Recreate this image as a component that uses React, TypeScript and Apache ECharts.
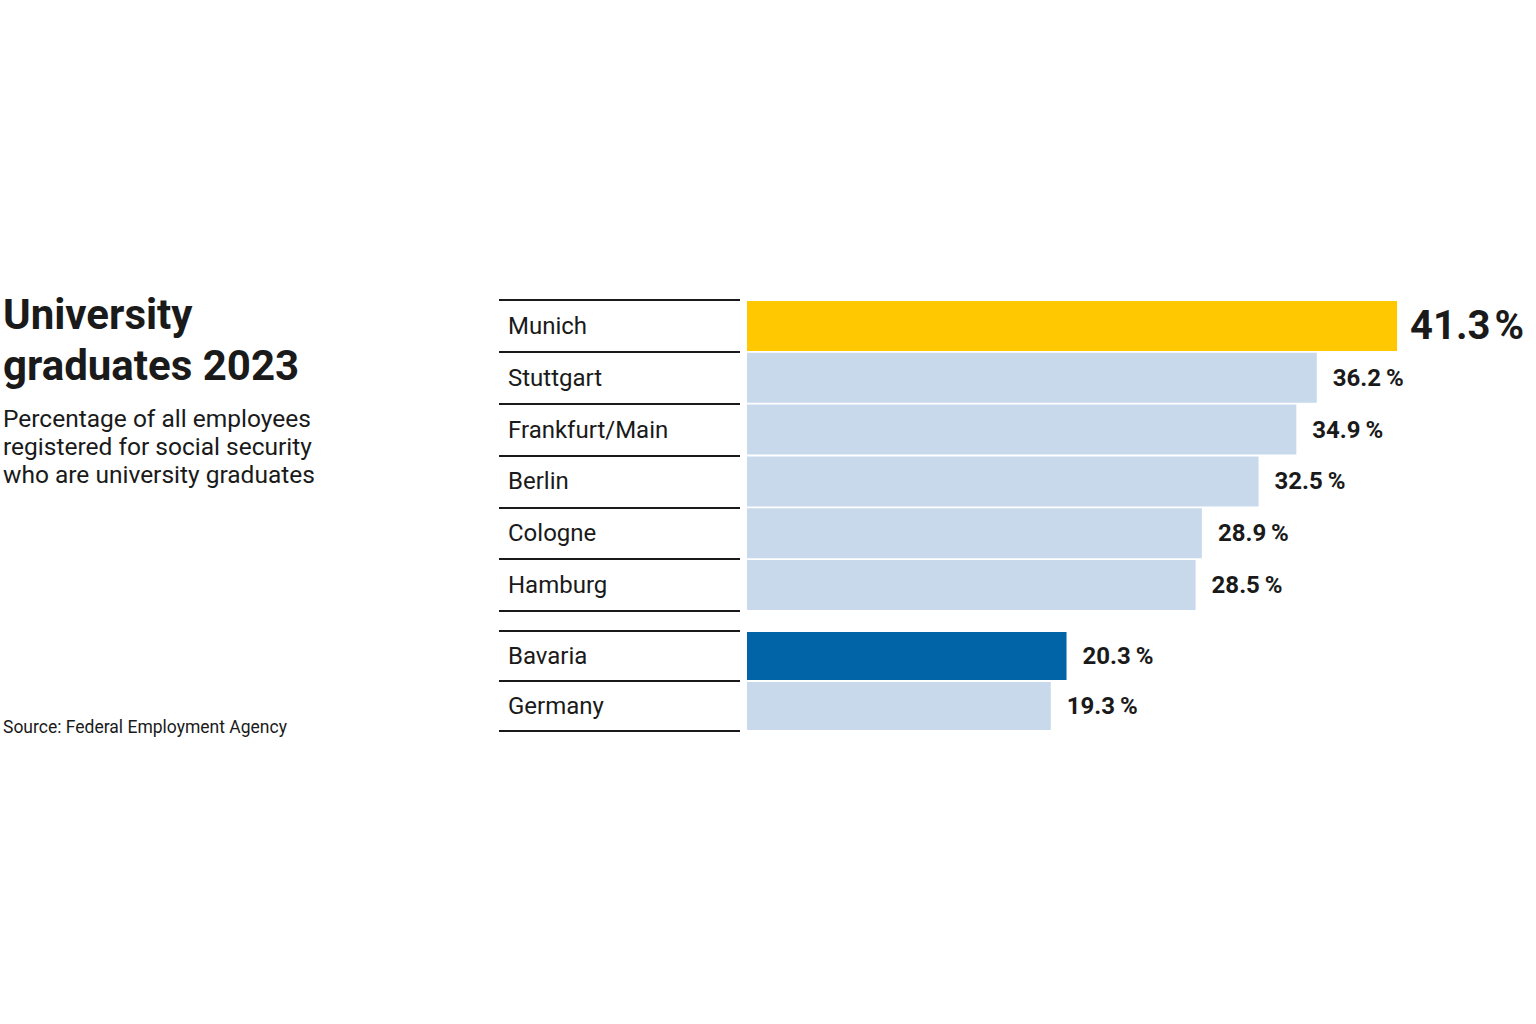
import React, { useEffect, useRef } from "react";
import * as echarts from "echarts";

const cityCategories = ["Munich", "Stuttgart", "Frankfurt/Main", "Berlin", "Cologne", "Hamburg"];
const cityValues = [41.3, 36.2, 34.9, 32.5, 28.9, 28.5];
const regionCategories = ["Bavaria", "Germany"];
const regionValues = [20.3, 19.3];
const titleLines = ["University", "graduates 2023"];
const subtitleLines = [
  "Percentage of all employees",
  "registered for social security",
  "who are university graduates",
];
const sourceText = "Source: Federal Employment Agency";

const FONT = "Roboto, 'Liberation Sans', sans-serif";
const INK = "#1a1a1a";
const YELLOW = "#FFC800";
const LIGHT = "#C9D9EC";
const DARK = "#0064A6";

const fmt = (v: number) => `${v.toFixed(1)}\u2009%`;
const fmtBig = (v: number) => `${v.toFixed(1)}\u200A%`;

export default function App() {
  const ref = useRef<HTMLDivElement>(null);
  useEffect(() => {
    if (!ref.current) return;
    const chart = echarts.init(ref.current, undefined, { renderer: "svg" });

    const yAxisCommon = (gridIndex: number, data: string[]) => ({
      type: "category",
      gridIndex,
      data,
      inverse: true,
      axisLine: { show: false, onZero: false },
      axisTick: { show: true, length: 241, lineStyle: { color: INK, width: 2 } },
      axisLabel: {
        margin: 232,
        align: "left",
        fontSize: 24,
        color: INK,
        fontFamily: FONT,
      },
      splitLine: { show: false },
    });

    const xAxisCommon = (gridIndex: number) => ({
      type: "value",
      gridIndex,
      min: -0.445,
      max: 50,
      show: false,
    });

    const baseLabel = {
      show: true,
      position: "right",
      distance: 16,
      fontSize: 24,
      fontWeight: "bold",
      color: INK,
      fontFamily: FONT,
      formatter: (p: any) => fmt(p.value),
    };

    const cityData = cityValues.map((v, i) =>
      i === 0
        ? {
            value: v,
            itemStyle: { color: YELLOW },
            label: {
              ...baseLabel,
              fontSize: 40,
              distance: 13,
              formatter: (p: any) => fmtBig(p.value),
            },
          }
        : { value: v, itemStyle: { color: LIGHT } }
    );
    const regionData = regionValues.map((v, i) => ({
      value: v,
      itemStyle: { color: i === 0 ? DARK : LIGHT },
    }));

    const graphicTexts: any[] = [];
    titleLines.forEach((t, i) =>
      graphicTexts.push({
        type: "text",
        x: 3,
        y: 314 + i * 51,
        style: { text: t, font: `bold 42px ${FONT}`, fill: INK, verticalAlign: "middle" },
      })
    );
    subtitleLines.forEach((t, i) =>
      graphicTexts.push({
        type: "text",
        x: 3,
        y: 418 + i * 28,
        style: { text: t, font: `24.5px ${FONT}`, fill: INK, verticalAlign: "middle" },
      })
    );
    graphicTexts.push({
      type: "text",
      x: 3,
      y: 727,
      style: { text: sourceText, font: `17.5px ${FONT}`, fill: INK, verticalAlign: "middle" },
    });

    chart.setOption({
      animation: false,
      backgroundColor: "#ffffff",
      grid: [
        { left: 740, right: 2, top: 300, height: 311 },
        { left: 740, right: 2, top: 631, height: 100 },
      ],
      xAxis: [xAxisCommon(0), xAxisCommon(1)],
      yAxis: [yAxisCommon(0, cityCategories), yAxisCommon(1, regionCategories)],
      series: [
        {
          type: "bar",
          xAxisIndex: 0,
          yAxisIndex: 0,
          barWidth: 50,
          data: cityData,
          label: baseLabel,
        },
        {
          type: "bar",
          xAxisIndex: 1,
          yAxisIndex: 1,
          barWidth: 48,
          data: regionData,
          label: baseLabel,
        },
      ],
      graphic: graphicTexts,
    });
    return () => chart.dispose();
  }, []);

  return (
    <div
      ref={ref}
      style={{ position: "fixed", left: 0, top: 0, width: 1536, height: 1024 }}
    />
  );
}
